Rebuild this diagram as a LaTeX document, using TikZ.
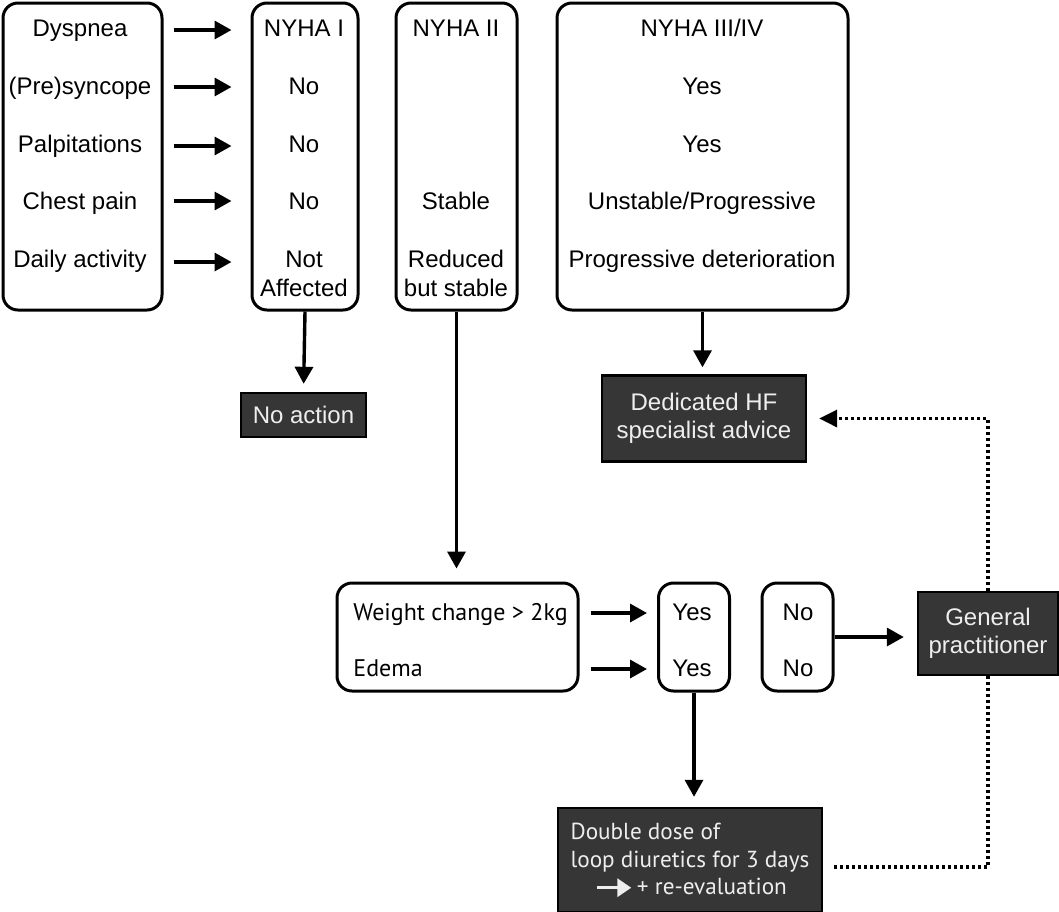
\documentclass[tikz,border=0pt]{standalone}
\usepackage{fontspec}
\setmainfont{Liberation Sans}
\newfontfamily\hum{PT Sans}
\usetikzlibrary{arrows.meta}
\definecolor{darkfill}{HTML}{363636}
\definecolor{litetext}{HTML}{EEEEEE}
\tikzset{
  box/.style={draw, line width=1.5pt, rounded corners=7.5pt, inner sep=0pt},
  dbox/.style={draw=black, line width=1.2pt, fill=darkfill, inner sep=0pt, text=litetext, align=center,
    font=\fontsize{12}{14}\selectfont},
  txt/.style={anchor=base, inner sep=0pt, align=center, font=\fontsize{12}{14.5}\selectfont},
  htxt/.style={anchor=base west, inner sep=0pt, font=\hum\fontsize{12}{14}\selectfont},
  arr/.style={line width=1.7pt, -{Triangle[length=8.5pt,width=9pt]}},
  dotarr/.style={line width=1.7pt, dash pattern=on 1.5pt off 1.5pt, -{Triangle[length=9pt,width=8.5pt]}},
  dotline/.style={line width=1.7pt, dash pattern=on 1.5pt off 1.5pt},
}
\begin{document}
\begin{tikzpicture}[x=0.5pt,y=-0.5pt]
\useasboundingbox (0,0) rectangle (1059,911);

% top boxes
\node[box, minimum width=79.5pt, minimum height=153.5pt] (lb) at (82.5,156.5) {};
\node[box, minimum width=53pt, minimum height=153.5pt] (n1) at (305,156.5) {};
\node[box, minimum width=60.5pt, minimum height=153.5pt] (n2) at (456.5,156.5) {};
\node[box, minimum width=145.5pt, minimum height=153.5pt] (n34) at (702.5,156.5) {};

% left texts
\node[txt] (l1) at (80,36.5) {Dyspnea};
\node[txt] (l2) at (80,94.5) {(Pre)syncope};
\node[txt] (l3) at (80,152.5) {Palpitations};
\node[txt] (l4) at (80,209.5) {Chest pain};
\node[txt] (l5) at (80,267.5) {Daily activity};

% NYHA I texts
\node[txt] (a1) at (304,36.5) {NYHA I};
\node[txt] (a2) at (304,94.5) {No};
\node[txt] (a3) at (304,152.5) {No};
\node[txt] (a4) at (304,209.5) {No};
\node[txt] (a5) at (304,296.5) {Not\\Affected};

% NYHA II texts
\node[txt] (b1) at (456,36.5) {NYHA II};
\node[txt] (b4) at (456,209.5) {Stable};
\node[txt] (b5) at (456,296.5) {Reduced\\but stable};

% NYHA III/IV texts
\node[txt] (c1) at (702,36.5) {NYHA III/IV};
\node[txt] (c2) at (702,94.5) {Yes};
\node[txt] (c3) at (702,152.5) {Yes};
\node[txt] (c4) at (702,209.5) {Unstable/Progressive};
\node[txt] (c5) at (702,267.5) {Progressive deterioration};

% row arrows
\coordinate (r1) at (0,30);
\coordinate (r2) at (0,87);
\coordinate (r3) at (0,146);
\coordinate (r4) at (0,201);
\coordinate (r5) at (0,262);
\foreach \i in {1,...,5}{
  \draw[arr, shorten <=5pt, shorten >=9.5pt] (lb.east |- r\i) -- (n1.west |- r\i);
}

% dark boxes
\node[dbox, minimum width=62.5pt, minimum height=22pt] (noact) at (303.5,415) {No action};
\node[dbox, minimum width=102pt, minimum height=43pt] (hf) at (704,418.5) {Dedicated HF\\specialist advice};
\node[dbox, minimum width=70pt, minimum height=41.5pt] (gp) at (988,633.5) {General\\practitioner};
\node[dbox, minimum width=132pt, minimum height=52pt, align=left, font=\hum\fontsize{11.6}{13.75}\selectfont] (dd) at (690,860)
  {Double dose of\\loop diuretics for 3 days\\\hspace*{12.5pt}\tikz[baseline=0pt]\draw[draw=litetext, line width=1.7pt, -{Triangle[length=7pt,width=9pt]}] (0pt,3.5pt) -- (17pt,3.5pt);\hspace{2pt}+ re-evaluation};

% bottom boxes
\node[box, minimum width=120.5pt, minimum height=54pt] (wt) at (457.5,637) {};
\node[box, minimum width=35.5pt, minimum height=54pt] (yes) at (694,637) {};
\node[box, minimum width=35.5pt, minimum height=54pt] (no) at (797.5,637) {};

\node[htxt] (w1) at (353,620.5) {Weight change > 2kg};
\node[htxt] (w2) at (353,676.5) {Edema};
\node[txt] (y1) at (692,620.5) {Yes};
\node[txt] (y2) at (692,676.5) {Yes};
\node[txt] (o1) at (798,620.5) {No};
\node[txt] (o2) at (798,676.5) {No};

\coordinate (s1) at (0,613);
\coordinate (s2) at (0,669);
\draw[arr, shorten <=5.5pt, shorten >=5pt] (wt.east |- s1) -- (yes.west |- s1);
\draw[arr, shorten <=5.5pt, shorten >=5pt] (wt.east |- s2) -- (yes.west |- s2);

% vertical arrows
\draw[arr, shorten >=4pt] (n1.south) -- (noact.north);
\draw[arr, shorten >=6.5pt] (n2.south) -- (n2.south |- wt.north);
\draw[arr, shorten >=3.5pt] (n34.south) -- (n34.south |- hf.north);
\draw[arr, shorten >=5pt] (yes.south) -- (yes.south |- dd.north);
\draw[arr, shorten >=6.5pt] (no.east) -- (no.east -| gp.west);

% dotted connectors
\draw[dotarr, shorten >=6pt] (gp.north) |- (hf.east);
\coordinate (ddin) at (823,867);
\draw[dotline, shorten >=4.5pt] (gp.south) |- (ddin);
\end{tikzpicture}
\end{document}
